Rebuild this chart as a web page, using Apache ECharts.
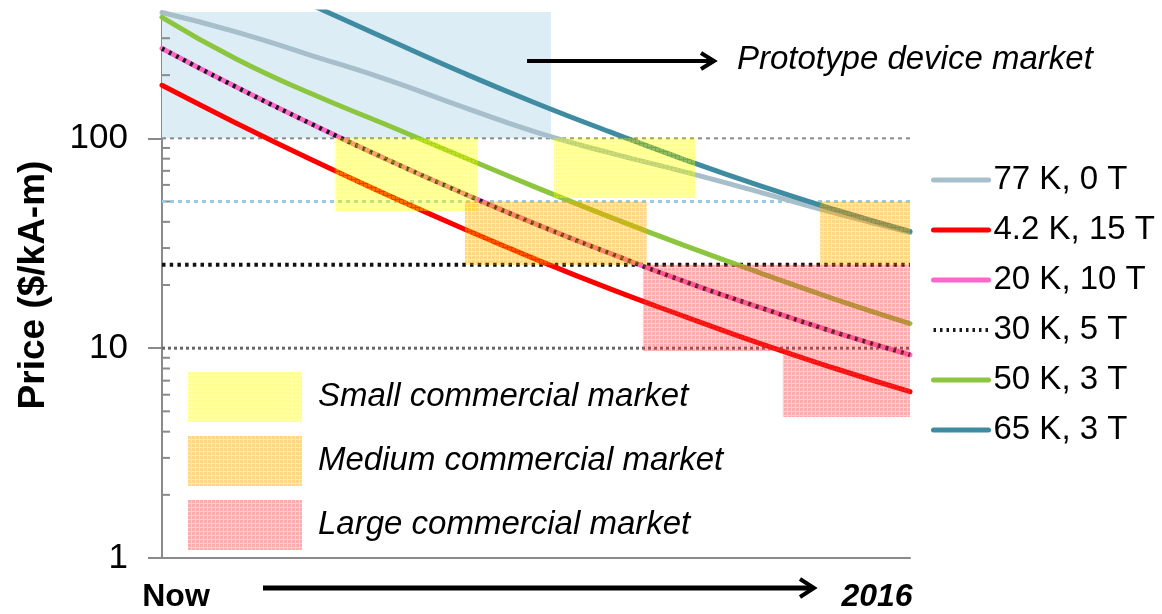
<!DOCTYPE html>
<html><head><meta charset="utf-8">
<script src="https://cdn.jsdelivr.net/npm/echarts@6/dist/echarts.min.js"></script>
<style>html,body{margin:0;padding:0;background:#fff}#c{width:1162px;height:614px}</style>
</head><body><div id="c"></div>
<script>
// ---- data ----
const xs = [0, 10, 20, 30, 40, 50, 60, 70, 80, 90, 100];
const k77_0T = [398, 321, 248, 191, 142, 107, 85, 69, 55.3, 44, 35.6];
const k4_15T = [179, 117.8, 79, 54, 37.5, 26.5, 19.1, 14.1, 10.5, 8.0, 6.2];
const k20_10T = [268, 175, 117, 79.5, 55.2, 39, 28.2, 20.7, 15.6, 11.9, 9.3];
const k30_5T = [268, 175, 117, 79.5, 55.2, 39, 28.2, 20.7, 15.6, 11.9, 9.3];
const k50_3T = [377, 238, 163, 116, 82.2, 58.4, 42, 30.7, 22.8, 17.1, 13.1];
const k65_3T = [null, null, 432, 298, 207, 147, 107, 78.8, 59.3, 45.7, 36];
const seriesNames = ['77 K, 0 T', '4.2 K, 15 T', '20 K, 10 T', '30 K, 5 T', '50 K, 3 T', '65 K, 3 T'];
// boxes: [xStart, xEnd, priceLow, priceHigh]
const prototypeBox = [[0, 52, 100, 400]];
const smallBoxes = [[23.1, 42.2, 45, 100], [52.4, 71.3, 52, 100]];
const mediumBoxes = [[40.5, 64.8, 25, 50], [88, 100, 25, 50]];
const largeBoxes = [[64.3, 100, 9.7, 25], [83, 100, 4.7, 9.7]];
const marketNames = ['Small commercial market', 'Medium commercial market', 'Large commercial market'];
const yTickValues = [1, 10, 100];
const yMinorTicks = [2,3,4,5,6,7,8,9,20,30,40,50,60,70,80,90,200,300];
const refLines = [100, 50, 25, 10];
const xStartLabel = 'Now';
const xEndLabel = '2016';
const yName = 'Price ($/kA-m)';
const protoLabel = 'Prototype device market';

const FONT = "'Liberation Sans', Arial, sans-serif";
const chart = echarts.init(document.getElementById('c'));
const pairs = ys => xs.map((x, i) => [x, ys[i]]);

// small grid texture for the market boxes
function gridPattern(cell, line) {
  const c = document.createElement('canvas');
  c.width = 4; c.height = 4;
  const g = c.getContext('2d');
  g.fillStyle = cell; g.fillRect(0, 0, 4, 4);
  g.clearRect(0, 3, 4, 1); g.clearRect(3, 0, 1, 4);
  g.fillStyle = line; g.fillRect(0, 3, 4, 1); g.fillRect(3, 0, 1, 3);
  return { image: c, repeat: 'repeat' };
}

function boxSeries(name, boxes, color, z) {
  return {
    type: 'custom', name, z, silent: true, clip: true,
    data: boxes, encode: { x: [0, 1], y: [2, 3] },
    itemStyle: { color },
    renderItem: (params, api) => {
      const p0 = api.coord([api.value(0), api.value(3)]);
      const p1 = api.coord([api.value(1), api.value(2)]);
      return { type: 'rect', shape: { x: p0[0], y: p0[1], width: p1[0] - p0[0], height: p1[1] - p0[1] }, style: { fill: color } };
    }
  };
}
const refStyles = [
  { stroke: '#8a8a8a', lineWidth: 2, lineDash: [4, 4] },
  { stroke: '#9ccae2', lineWidth: 3, lineDash: [4, 4] },
  { stroke: '#111111', lineWidth: 4, lineDash: [3.5, 4.2] },
  { stroke: '#666666', lineWidth: 3, lineDash: [3, 3] }
];
function lineSeries(name, ys, color, width, z, extra) {
  return Object.assign({
    type: 'line', name, data: pairs(ys), smooth: 0.5, symbol: 'none', z,
    lineStyle: { color, width, cap: 'round' }, itemStyle: { color }
  }, extra || {});
}
const legendLine = (name, color, width, type) => ({ name, itemStyle: { opacity: 0 }, lineStyle: { color, width, type: type || 'solid' } });

const smallFill = gridPattern('rgba(255,255,0,0.42)', 'rgba(255,255,0,0.22)');
const mediumFill = gridPattern('rgba(255,170,0,0.47)', 'rgba(255,170,0,0.28)');
const largeFill = gridPattern('rgba(240,60,60,0.42)', 'rgba(240,60,60,0.24)');

chart.setOption({
  animation: false,
  backgroundColor: '#fff',
  grid: { left: 162, right: 252, top: 12, bottom: 56 },
  xAxis: {
    type: 'value', min: 0, max: 100,
    axisLine: { show: true, lineStyle: { color: '#8a8a8a', width: 2 } },
    axisTick: { show: false }, axisLabel: { show: false }, splitLine: { show: false }
  },
  yAxis: {
    type: 'log', logBase: 10, min: 1, max: 400,
    name: yName, nameLocation: 'middle', nameGap: 110, nameRotate: 90,
    nameTextStyle: { fontFamily: FONT, fontSize: 37, fontWeight: 'bold', color: '#000' },
    axisLine: { show: true, lineStyle: { color: '#8a8a8a', width: 2 } },
    axisTick: { show: true, customValues: yTickValues, length: 14, inside: false, lineStyle: { color: '#8a8a8a', width: 2 } },
    axisLabel: { customValues: yTickValues, margin: 34, fontFamily: FONT, fontSize: 35, color: '#000' },
    splitLine: { show: false }, minorTick: { show: false }
  },
  legend: [{
    data: [
      legendLine(seriesNames[0], '#a7bfcb', 5),
      legendLine(seriesNames[1], '#ff0000', 5),
      legendLine(seriesNames[2], '#ff66cc', 5),
      legendLine(seriesNames[3], '#1a1a1a', 4, [2.5, 4]),
      legendLine(seriesNames[4], '#8cc63f', 5),
      legendLine(seriesNames[5], '#3f8ca2', 5)
    ],
    orient: 'vertical', left: 926, top: 155,
    itemWidth: 55, itemHeight: 14, itemGap: 10,
    itemStyle: { opacity: 0 },
    textStyle: { fontFamily: FONT, fontSize: 33, color: '#000', lineHeight: 40 },
    selectedMode: false
  }, {
    data: [
      { name: marketNames[0], itemStyle: { color: smallFill } },
      { name: marketNames[1], itemStyle: { color: mediumFill } },
      { name: marketNames[2], itemStyle: { color: largeFill } }
    ],
    orient: 'vertical', left: 183, top: 367,
    icon: 'rect', itemWidth: 114, itemHeight: 50, itemGap: 14,
    textStyle: { fontFamily: FONT, fontSize: 33, fontStyle: 'italic', color: '#000', padding: [4, 0, 0, 11] },
    selectedMode: false
  }],
  series: [
    boxSeries('proto', prototypeBox, '#dcedf6', 1),
    {
      type: 'custom', name: 'minorTicks', z: 2, silent: true, clip: false,
      data: yMinorTicks.map(v => [0, v]),
      renderItem: (params, api) => {
        const p = api.coord([api.value(0), api.value(1)]);
        return { type: 'line', shape: { x1: p[0], y1: p[1], x2: p[0] + 8, y2: p[1] }, style: { stroke: '#8a8a8a', lineWidth: 2 } };
      }
    },
    {
      type: 'custom', name: 'refLines', z: 2, silent: true,
      data: refLines.map(v => [0, v]),
      renderItem: (params, api) => {
        const p0 = api.coord([0, api.value(1)]);
        const p1 = api.coord([100, api.value(1)]);
        return { type: 'line', shape: { x1: p0[0], y1: p0[1], x2: p1[0], y2: p1[1] }, style: refStyles[params.dataIndex] };
      }
    },
    lineSeries(seriesNames[0], k77_0T, '#a7bfcb', 5, 3),
    lineSeries(seriesNames[1], k4_15T, '#ff0000', 5, 3),
    lineSeries(seriesNames[2], k20_10T, '#ff66cc', 5, 3),
    lineSeries(seriesNames[3], k30_5T, '#1a1a1a', 4, 4, { lineStyle: { color: '#1a1a1a', width: 4.5, type: [3, 5], cap: 'butt' } }),
    lineSeries(seriesNames[4], k50_3T, '#8cc63f', 5, 3),
    lineSeries(seriesNames[5], k65_3T, '#3f8ca2', 5, 3),
    boxSeries(marketNames[0], smallBoxes, smallFill, 5),
    boxSeries(marketNames[1], mediumBoxes, mediumFill, 5),
    boxSeries(marketNames[2], largeBoxes, largeFill, 5)
  ],
  graphic: [
    { type: 'line', z: 100, shape: { x1: 527, y1: 61, x2: 712, y2: 61 }, style: { stroke: '#000', lineWidth: 4 } },
    { type: 'polyline', z: 100, shape: { points: [[701, 53], [714, 61], [701, 69]] }, style: { stroke: '#000', lineWidth: 4, fill: null } },
    { type: 'text', z: 100, x: 737, y: 60, style: { text: protoLabel, font: 'italic 33px ' + FONT, fill: '#000', textVerticalAlign: 'middle' } },
    { type: 'line', z: 100, shape: { x1: 263, y1: 588, x2: 812, y2: 588 }, style: { stroke: '#000', lineWidth: 5 } },
    { type: 'polyline', z: 100, shape: { points: [[800, 579], [814, 588], [800, 597]] }, style: { stroke: '#000', lineWidth: 4, fill: null } },
    { type: 'text', z: 100, x: 176, y: 597, style: { text: xStartLabel, font: 'bold 32px ' + FONT, fill: '#000', textAlign: 'center', textVerticalAlign: 'middle' } },
    { type: 'text', z: 100, x: 877, y: 597, style: { text: xEndLabel, font: 'italic bold 32px ' + FONT, fill: '#000', textAlign: 'center', textVerticalAlign: 'middle' } }
  ]
});
</script></body></html>
